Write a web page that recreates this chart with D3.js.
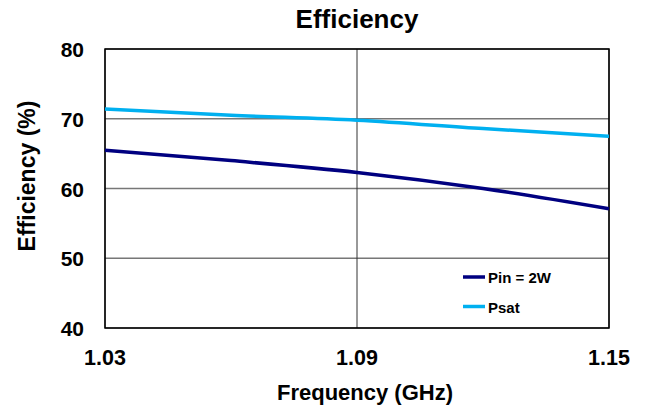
<!DOCTYPE html>
<html>
<head>
<meta charset="utf-8">
<script src="https://cdn.jsdelivr.net/npm/d3@7"></script>
<style>
  body { margin: 0; background: #fff; }
  text { font-family: "Liberation Sans", Arial, sans-serif; font-weight: bold; }
</style>
</head>
<body>
<svg id="svg"></svg>
<script>
    var w = 651;
    var h = 414;

    // data
    var freqs = [1.03, 1.06, 1.09, 1.12, 1.15];
    var pin2w = [65.5, 64.0, 62.3, 60.0, 57.1];
    var psat = [71.4, 70.5, 69.8, 68.6, 67.5];
    var seriesNames = ["Pin = 2W", "Psat"];
    var xTicks = [1.03, 1.09, 1.15];
    var yTicks = [40, 50, 60, 70, 80];

    var colors = ["#000080", "#00B0F0"];

    // plot box (note: "top" is taken by window.top)
    var pL = 105, pR = 609, pT = 49, pB = 328;

    svg = d3.select("#svg")
            .attr("width", w)
            .attr("height", h)

    var x = d3.scaleLinear().domain([1.03, 1.15]).range([pL, pR])
    var y = d3.scaleLinear().domain([40, 80]).range([pB, pT])

    // horizontal grid
    svg.append("g")
        .selectAll("line")
        .data(yTicks)
        .enter().append("line")
        .attr("x1", pL).attr("x2", pR)
        .attr("y1", function(d) { return y(d) })
        .attr("y2", function(d) { return y(d) })
        .attr("stroke", "#777")
        .attr("stroke-width", 1.5)

    // vertical grid
    svg.append("g")
        .selectAll("line")
        .data(xTicks)
        .enter().append("line")
        .attr("x1", function(d) { return x(d) })
        .attr("x2", function(d) { return x(d) })
        .attr("y1", pT).attr("y2", pB)
        .attr("stroke", "#333")
        .attr("stroke-width", 1)

    svg.append("rect")
        .attr("x", pL).attr("y", pT)
        .attr("width", pR - pL).attr("height", pB - pT)
        .attr("fill", "none")
        .attr("stroke", "#000")
        .attr("stroke-width", 1.5)

    var line = d3.line()
        .x(function(d, i) { return x(freqs[i]) })
        .y(function(d) { return y(d) })
        .curve(d3.curveMonotoneX)

    ;[pin2w, psat].forEach(function(s, k) {
        svg.append("path")
            .attr("d", line(s))
            .attr("fill", "none")
            .attr("stroke", colors[k])
            .attr("stroke-width", 3.5)
    })

    // tick labels
    svg.append("g")
        .selectAll("text")
        .data(yTicks)
        .enter().append("text")
        .attr("x", 84)
        .attr("y", function(d) { return y(d) + 8 })
        .attr("text-anchor", "end")
        .attr("font-size", 21)
        .text(function(d) { return d })

    svg.append("g")
        .selectAll("text")
        .data(xTicks)
        .enter().append("text")
        .attr("x", function(d) { return x(d) })
        .attr("y", 365)
        .attr("text-anchor", "middle")
        .attr("font-size", 21.5)
        .text(function(d) { return d.toFixed(2) })

    svg.append("text")
        .attr("x", 357).attr("y", 28)
        .attr("text-anchor", "middle")
        .attr("font-size", 26)
        .text("Efficiency")

    svg.append("text")
        .attr("x", 365).attr("y", 400)
        .attr("text-anchor", "middle")
        .attr("font-size", 22)
        .text("Frequency (GHz)")

    svg.append("text")
        .attr("transform", "translate(35,176)rotate(-90)")
        .attr("text-anchor", "middle")
        .attr("font-size", 23)
        .text("Efficiency (%)")

    // legend
    var leg = svg.append("g")
        .selectAll("g")
        .data(seriesNames)
        .enter().append("g")
        .attr("transform", function(d, i) { return "translate(463," + (277 + i * 29.5) + ")" })
    leg.append("line")
        .attr("x1", 0).attr("x2", 22)
        .attr("stroke", function(d, i) { return colors[i] })
        .attr("stroke-width", 3.5)
    leg.append("text")
        .attr("x", 25).attr("y", 6)
        .attr("font-size", 15)
        .text(function(d) { return d })
</script>
</body>
</html>
